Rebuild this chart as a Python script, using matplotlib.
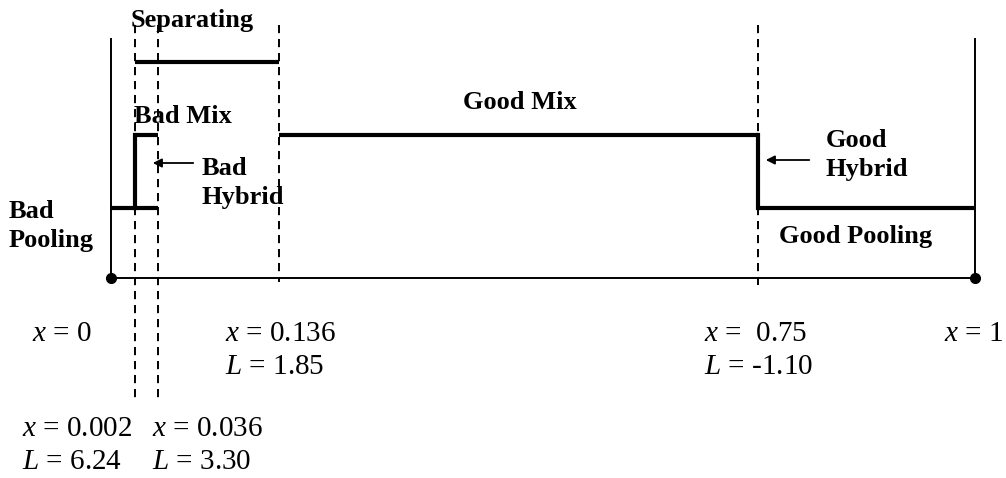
import matplotlib.pyplot as plt

# equilibrium regions of the signalling game, in order along x
thresh_x = [0.0, 0.002, 0.036, 0.136, 0.75, 1.0]
thresh_L = [None, 6.24, 3.30, 1.85, -1.10, None]
x_labels = ["$x$ = 0", "$x$ = 0.002", "$x$ = 0.036", "$x$ = 0.136", "$x$ =  0.75", "$x$ = 1"]
L_labels = [None, "$L$ = 6.24", "$L$ = 3.30", "$L$ = 1.85", "$L$ = -1.10", None]

# step profile: (start threshold index, end threshold index, level)
# level 1 = pooling, 2 = mix, 3 = separating
segments = [(0, 2, 1), (1, 2, 2), (1, 3, 3), (3, 4, 2), (4, 5, 1)]
risers = [(1, 1, 2), (4, 1, 2)]  # vertical jumps at hybrid thresholds

region_names = [["Separating"], ["Bad Mix"], ["Bad", "Hybrid"], ["Bad", "Pooling"],
                ["Good Mix"], ["Good", "Hybrid"], ["Good Pooling"]]

# schematic layout (not to scale): pixel position of each threshold
pos = [111, 135, 158, 279, 758, 975]
level_y = {0: 278, 1: 208, 2: 135, 3: 62}

plt.rcParams['font.family'] = ['Liberation Serif', 'DejaVu Serif']
plt.rcParams['mathtext.fontset'] = 'custom'
plt.rcParams['mathtext.it'] = 'Liberation Serif:italic'
plt.rcParams['mathtext.rm'] = 'Liberation Serif'

fig = plt.figure(figsize=(10.06, 4.78), dpi=100)
ax = fig.add_axes([0, 0, 1, 1])
ax.set_xlim(0, 1006)
ax.set_ylim(478, 0)
ax.axis('off')

# frame: baseline and end posts
ax.plot([pos[0], pos[-1]], [level_y[0]] * 2, color='black', lw=1.4)
for p in (pos[0], pos[-1]):
    ax.plot([p, p], [39, level_y[0]], color='black', lw=1.4)
    ax.plot(p, level_y[0], 'o', color='black', ms=7)

# dashed threshold lines
dash_ends = {1: 400, 2: 400, 3: 282, 4: 285}
for i, yb in dash_ends.items():
    ax.plot([pos[i], pos[i]], [25, yb], color='black', lw=1.4, ls=(0, (4.2, 3.0)))

for a, b, lev in segments:
    ax.plot([pos[a], pos[b]], [level_y[lev]] * 2, color='black', lw=3, solid_capstyle='butt')
for i, lo, hi in risers:
    ax.plot([pos[i], pos[i]], [level_y[lo], level_y[hi]], color='black', lw=3, solid_capstyle='projecting')

# arrows to hybrid jumps
ax.annotate("", xy=(150, 163), xytext=(196, 163),
            arrowprops=dict(arrowstyle='-|>', color='black', lw=1.3, mutation_scale=13))
ax.annotate("", xy=(763, 160), xytext=(812, 160),
            arrowprops=dict(arrowstyle='-|>', color='black', lw=1.3, mutation_scale=13))

# region labels: left x, first baseline, alignment
name_place = [(192, 27, 'center'), (134, 123, 'left'), (202, 175, 'left'), (9, 218, 'left'),
              (520, 109, 'center'), (826, 147, 'left'), (779, 243, 'left')]
bold = dict(fontsize=19, fontweight='bold', color='black', va='baseline')
for lines, (tx, ty, ha) in zip(region_names, name_place):
    for k, line in enumerate(lines):
        ax.text(tx, ty + 29 * k, line, ha=ha, **bold)

# threshold values (two lower-left ones are dropped below the others)
num = dict(fontsize=21, color='black', va='baseline', ha='left')
x_left = [32, 22, 152, 225, 704, 944]
row_base = {0: 341, 1: 436, 2: 436, 3: 341, 4: 341, 5: 341}
for i, lab in enumerate(x_labels):
    ax.text(x_left[i], row_base[i], lab, **num)
    if L_labels[i]:
        ax.text(x_left[i], row_base[i] + 33, L_labels[i], **num)

fig.savefig("out.png", dpi=100)
